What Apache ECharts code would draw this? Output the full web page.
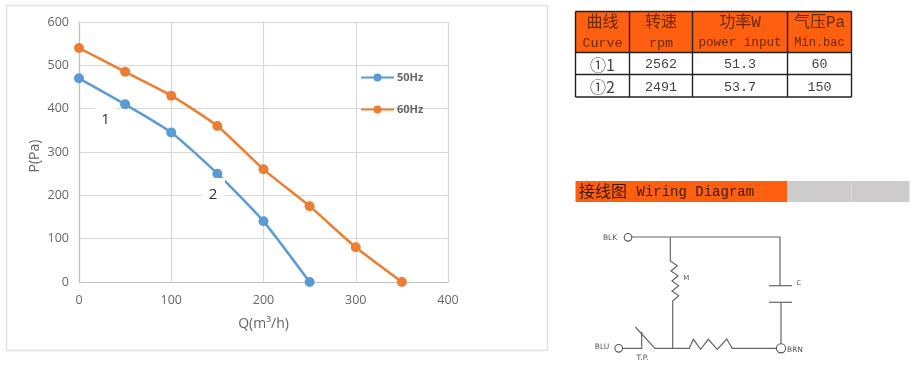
<!DOCTYPE html>
<html><head><meta charset="utf-8">
<style>html,body{margin:0;padding:0;background:#fff}#c{width:911px;height:366px;filter:blur(0.35px)}</style>
<script src="https://cdn.jsdelivr.net/npm/echarts@6/dist/echarts.min.js"></script>
</head><body><div id="c"></div>
<script>
const flow50 = [0, 50, 100, 150, 200, 250];
const pressure50 = [470, 410, 345, 250, 140, 0];
const flow60 = [0, 50, 100, 150, 200, 250, 300, 350];
const pressure60 = [540, 485, 430, 360, 260, 175, 80, 0];
const seriesNames = ['50Hz', '60Hz'];
const tableHeadCn = ['曲线', '转速', '功率W', '气压Pa'];
const tableHeadEn = ['Curve', 'rpm', 'power input', 'Min.bac'];
const tableRow1 = ['①1', '2562', '51.3', '60'];
const tableRow2 = ['①2', '2491', '53.7', '150'];

const CN = '"Noto Sans CJK SC"', MONO = '"Liberation Mono","Noto Sans CJK SC"';
const g = [];
const rect = (x, y, w, h, fill, z) => g.push({type:'rect', z:z||10, silent:true, shape:{x,y,width:w,height:h}, style:{fill}});
const text = (x, y, t, size, fill, font, opts) => g.push(Object.assign({type:'text', z:30, silent:true, x, y,
  style:{text:t, fontSize:size, fill, fontFamily:font, align:'center', verticalAlign:'middle'}}, opts||{}));
const line = (pts, w, col) => g.push({type:'polyline', z:20, silent:true, shape:{points:pts}, style:{stroke:col||'#666', lineWidth:w||1.2, fill:null}});
const circle = (x, y, r) => g.push({type:'circle', z:20, silent:true, shape:{cx:x, cy:y, r}, style:{stroke:'#555', lineWidth:1.1, fill:'#fff'}});

// chart frame and curve labels
g.push({type:'rect', z:0, silent:true, shape:{x:6.5,y:5.5,width:541,height:345}, style:{stroke:'#E4E4E4', lineWidth:1.5, fill:'#fff'}});
rect(95, 107, 20, 24, '#fff', 8);
rect(202, 178, 23, 26, '#fff', 8);
text(105.5, 120, '1', 15, '#333', '"Open Sans"');
text(213, 195, '2', 15, '#333', '"Open Sans"');

// table
const colX = [575.5, 629.5, 692.5, 787.5, 851.5];
const rowY = [11.5, 52.5, 74.5, 97];
rect(colX[0], rowY[0], colX[4]-colX[0], rowY[1]-rowY[0], '#FF6010');
colX.forEach(x => line([[x, rowY[0]], [x, rowY[3]]], 1.4, '#222'));
rowY.forEach(y => line([[colX[0], y], [colX[4], y]], 1.4, '#222'));
for (let i = 0; i < 4; i++) {
  const cx = (colX[i] + colX[i+1]) / 2;
  text(cx, 23, tableHeadCn[i], 16, '#6b2a08', MONO);
  text(cx, 43, tableHeadEn[i], i === 2 ? 12.6 : i === 3 ? 12 : 13.4, '#6b2a08', MONO);
  [[tableRow1, 64.5], [tableRow2, 87]].forEach(([row, y]) => {
    text(cx, y, row[i], i === 0 ? 16 : 13.4, '#444', i === 0 ? CN : MONO);
  });
}

// wiring diagram
rect(575.5, 181, 211.5, 21, '#FF6010');
rect(787, 181, 122.5, 21, '#CDCBCB');
rect(851, 181, 0.8, 21, '#DDD', 11);
g.push({type:'text', z:30, silent:true, x:579, y:190.5, style:{text:'接线图', fontSize:16, fill:'#3a1a08', fontFamily:CN, align:'left', verticalAlign:'middle'}});
g.push({type:'text', z:30, silent:true, x:636.5, y:192, style:{text:'Wiring Diagram', fontSize:14, fill:'#3a1a08', fontFamily:MONO, align:'left', verticalAlign:'middle'}});
line([[632,237],[780,237],[780,285.7]]);
line([[769,285.7],[792,285.7]]);
line([[769,302.3],[792,302.3]]);
line([[781,302.3],[781,344]]);
line([[670.3,237],[670.3,261],[677.3,265.7],[671,271],[678,275.7],[672,281],[678.7,285.7],[672,291],[678.7,295.7],[672.7,301],[672.7,348.3]]);
line([[622.7,348.3],[641.7,348.3],[641.7,331.7]]);
line([[635.3,327],[655,348.3],[689.3,348.3],[693.3,339.3],[700.7,349.3],[708.3,339.3],[717.3,349.3],[726.7,339],[732.3,348.3],[776.5,348.3]]);
circle(628, 237.3, 3.8);
circle(618.7, 348.3, 3.8);
circle(781, 348.3, 4.6);
const lab = '"DejaVu Sans"';
text(610, 238, 'BLK', 7.5, '#555', lab);
text(602, 346.7, 'BLU', 7.5, '#555', lab);
text(795, 350, 'BRN', 7.5, '#555', lab);
text(642.5, 358, 'T.P.', 7.5, '#555', lab);
text(686.3, 277.7, 'M', 7, '#555', lab);
text(798.7, 283, 'C', 6.5, '#555', lab);

const zip = (a, b) => a.map((v, i) => [v, b[i]]);
const axisText = {color:'#666', fontSize:12.5, fontFamily:'"Open Sans"'};
const split = {show:true, lineStyle:{color:'#D9D9D9', width:1.2}};
const axisL = {show:true, lineStyle:{color:'#BFBFBF', width:1.2}};
const chart = echarts.init(document.getElementById('c'));
chart.setOption({
  animation:false,
  backgroundColor:'#fff',
  color:['#5B9BD5', '#ED7D31'],
  grid:{left:79, top:22, width:369, height:260},
  xAxis:{type:'value', min:0, max:400, interval:100, splitLine:split, axisLine:axisL, axisTick:{show:false},
    axisLabel:Object.assign({margin:12}, axisText),
    name:'Q(m³/h)', nameLocation:'middle', nameGap:35, nameTextStyle:{color:'#666', fontSize:14, fontFamily:'"Open Sans"'}},
  yAxis:{type:'value', min:0, max:600, interval:100, splitLine:split, axisLine:axisL, axisTick:{show:false},
    axisLabel:Object.assign({margin:10}, axisText),
    name:'P(Pa)', nameLocation:'middle', nameGap:37, nameTextStyle:{color:'#666', fontSize:14, fontFamily:'"Open Sans"', padding:[0,8,0,0]}},
  legend:{left:355, top:67, orient:'vertical', itemGap:21, itemWidth:33, itemHeight:10,
    textStyle:{color:'#666', fontSize:11, fontWeight:'bold', fontFamily:'"Open Sans"', padding:[0,0,0,-2]},
    data:seriesNames},
  series:[
    {name:seriesNames[0], type:'line', smooth:0.2, data:zip(flow50, pressure50), symbol:'circle', symbolSize:10, lineStyle:{width:2.5}, z:3},
    {name:seriesNames[1], type:'line', smooth:0.2, data:zip(flow60, pressure60), symbol:'circle', symbolSize:10, lineStyle:{width:2.5}, z:3}
  ],
  graphic:g
});
</script></body></html>
